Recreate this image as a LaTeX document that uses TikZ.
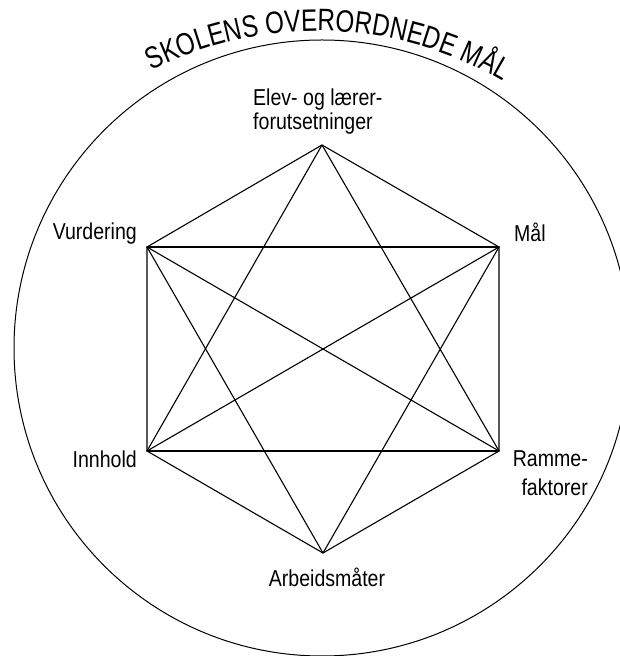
\documentclass[tikz,border=0pt]{standalone}
\usepackage{fontspec}
\usetikzlibrary{decorations.text}
\newfontfamily\labfont[FakeStretch=0.85]{Liberation Sans}
\newfontfamily\titfont[FakeStretch=0.78]{Liberation Sans}
\begin{document}
\begin{tikzpicture}[x=1pt,y=1pt,
  link/.style={line width=1.1pt, line cap=round, line join=round},
  lab/.style={inner sep=0pt, font=\labfont\fontsize{23}{24}\selectfont}]
\useasboundingbox (0,0) rectangle (620,656);
% outer circle
\draw[line width=1pt] (322,308) circle[radius=308];
% title along arc
\path[decorate, decoration={text along path, text align=center,
   text={|\titfont\fontsize{31}{31}\selectfont|SKOLENS OVERORDNEDE MÅL}}]
   (317.5,258) ++(117:367) arc[start angle=117, end angle=59.5, radius=367];
% vertices
\coordinate (T)  at (322,511);
\coordinate (UR) at (499,409);
\coordinate (LR) at (499,205);
\coordinate (B)  at (323,103);
\coordinate (LL) at (147,205);
\coordinate (UL) at (147,409);
% hexagon
\draw[link] (T) -- (UR) -- (LR) -- (B) -- (LL) -- (UL) -- cycle;
% horizontals
\draw[link] (UL) -- (UR);
\draw[link] (LL) -- (LR);
% triangles
\draw[link] (T) -- (LL);
\draw[link] (T) -- (LR);
\draw[link] (B) -- (UL);
\draw[link] (B) -- (UR);
% diagonals
\draw[link] (UL) -- (LR);
\draw[link] (UR) -- (LL);
% labels
\node[lab, anchor=base west, align=left] (elev) at (253,526) {Elev- og lærer-\\forutsetninger};
\node[lab, anchor=base east] (vurd) at (137,416) {Vurdering};
\node[lab, anchor=base east] (innh) at (137,188) {Innhold};
\node[lab, anchor=base west] (maal) at (514,414) {Mål};
\node[lab, anchor=base east, align=right] (ramme) at (588,160) {Ramme-\\[5pt]faktorer};
\node[lab, anchor=base] (arb) at (327,69) {Arbeidsmåter};
\end{tikzpicture}
\end{document}
